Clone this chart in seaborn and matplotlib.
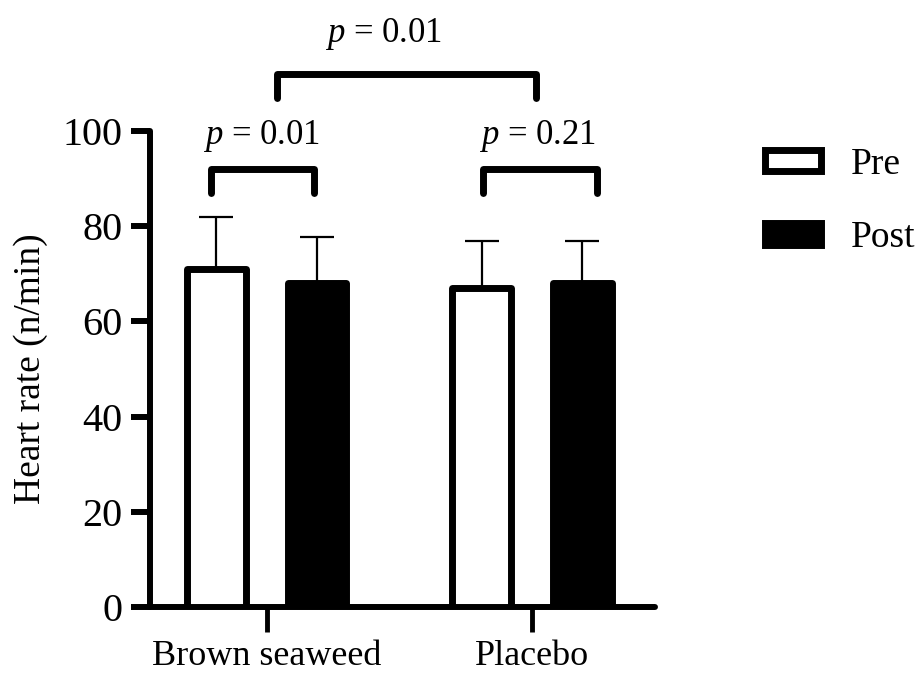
import pandas as pd
import seaborn as sns
import matplotlib.pyplot as plt

# values (mean and upper SD)
groups = ["Brown seaweed", "Placebo"]
times = ["Pre", "Post"]
pre_mean = [71.0, 67.0]
post_mean = [68.1, 68.1]
pre_sd = [10.9, 9.9]
post_sd = [9.6, 8.8]

# significance brackets: (x0, x1, y_bar, y_leg, label, text_x, text_y)
brackets = [
    (-0.21, 0.18, 92.0, 87.0, "0.01", -0.02, 97.3),
    (0.815, 1.245, 92.0, 87.0, "0.21", 1.02, 97.3),
    (0.04, 1.015, 112.0, 107.0, "0.01", 0.44, 118.8),
]

sns.set_style("white")
plt.rcParams["font.family"] = ["Liberation Serif", "DejaVu Serif"]
plt.rcParams["mathtext.fontset"] = "custom"
plt.rcParams["mathtext.rm"] = "Liberation Serif"
plt.rcParams["mathtext.it"] = "Liberation Serif:italic"
plt.rcParams["text.color"] = "black"
plt.rcParams["axes.labelcolor"] = "black"
plt.rcParams["xtick.color"] = "black"
plt.rcParams["ytick.color"] = "black"
plt.rcParams["axes.edgecolor"] = "black"

df = pd.DataFrame({
    "group": groups * 2,
    "time": ["Pre"] * len(groups) + ["Post"] * len(groups),
    "rate": pre_mean + post_mean,
})
sds = {"Pre": pre_sd, "Post": post_sd}

fig = plt.figure(figsize=(9.19, 6.73), dpi=100)
ax = fig.add_axes([150 / 919, 1 - 607 / 673, 505 / 919, 476 / 673])

sns.barplot(data=df, x="group", y="rate", hue="time", order=groups, hue_order=times,
            palette={"Pre": "white", "Post": "black"}, edgecolor="black", linewidth=5,
            width=0.76, gap=0.42, errorbar=None, ax=ax, zorder=3)

for cont, t in zip(ax.containers, times):
    for bar, sd in zip(cont, sds[t]):
        bar.set_joinstyle("round")
        bar.set_capstyle("round")
        x = bar.get_x() + bar.get_width() / 2
        ax.errorbar(x, bar.get_height(), yerr=[[0], [sd]], color="black",
                    elinewidth=1.6, capsize=12.5, capthick=1.6, zorder=2)

for x0, x1, yb, yl, lab, tx, ty in brackets:
    ax.plot([x0, x0, x1, x1], [yl, yb, yb, yl], color="black", lw=5,
            solid_capstyle="round", solid_joinstyle="round", clip_on=False)
    ax.text(tx, ty, r"$\it{p}$ = " + lab, ha="center", va="baseline",
            fontsize=25, clip_on=False)

ax.set_xlim(-0.44, 1.464)
ax.set_ylim(0, 100)
ax.set_yticks([0, 20, 40, 60, 80, 100])
ax.set_xlabel("")
ax.set_ylabel("Heart rate (n/min)", fontsize=27, labelpad=10)
sns.despine(ax=ax)
for side in ["left", "bottom"]:
    ax.spines[side].set_linewidth(4.3)
    ax.spines[side].set_capstyle("round")
ax.tick_params(axis="y", direction="out", length=14, width=4.3, pad=6, labelsize=29, left=True)
ax.tick_params(axis="x", direction="out", length=18, width=3.5, pad=6, labelsize=26, bottom=True)

handles, labels = ax.get_legend_handles_labels()
ax.legend_.remove()
for h in handles:
    h.set_edgecolor("black")
    h.set_linewidth(5)
    h.set_joinstyle("round")
fig.legend(handles, labels, loc="upper left", bbox_to_anchor=(765 / 919, 1 - 147 / 673),
           frameon=False, fontsize=27, handlelength=1.5, handleheight=0.5,
           handletextpad=0.8, labelspacing=1.05, borderpad=0, borderaxespad=0)

fig.savefig("out.png", dpi=100)
